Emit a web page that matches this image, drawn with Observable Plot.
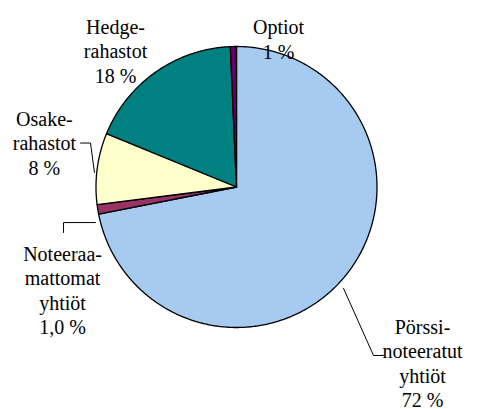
<!DOCTYPE html>
<html>
<head>
<meta charset="utf-8">
<script src="https://cdn.jsdelivr.net/npm/d3@7"></script>
<script src="https://cdn.jsdelivr.net/npm/@observablehq/plot@0.6"></script>
<style>
  html, body { margin: 0; padding: 0; background: #fff; font-family: "Times New Roman", "Liberation Serif", serif; }
  #chart svg { display: block; }
  #chart svg text, #chart svg tspan { font-family: "Times New Roman", "Liberation Serif", serif !important; }
</style>
</head>
<body>
<div id="chart"></div>
<script>
// ---- data, clockwise from 12 o'clock ----
const categories = ["Pörssinoteeratut yhtiöt", "Noteeraamattomat yhtiöt", "Osakerahastot", "Hedgerahastot", "Optiot"];
const shares = [71.9, 1.1, 8.2, 18.1, 0.7];
const labelTexts = [
  "Pörssi-\nnoteeratut\nyhtiöt\n72 %",
  "Noteeraa-\nmattomat\nyhtiöt\n1,0 %",
  "Osake-\nrahastot\n8 %",
  "Hedge-\nrahastot\n18 %",
  "Optiot\n1 %"
];
const colors = ["#A6CAF0", "#993366", "#FFFFCC", "#008080", "#660066"];

// ---- layout (pie radius = 1 unit, centre at origin) ----
const W = 477, H = 409, R = 140.5, CX = 236, CY = 186.5;
const labelPos = [[1.324, -1.25], [-1.238, -0.730], [-1.367, 0.317], [-0.861, 0.972], [0.299, 1.057]];
const leaders = [
  [[0.762, -0.722], [0.975, -1.199], [1.046, -1.199]],
  [[-1.231, -0.324], [-1.231, -0.253], [-1.004, -0.253]],
  [[-1.110, 0.313], [-1.039, 0.313], [-1.011, 0.103]]
];

const table = categories.map((c, i) => ({name: c, value: shares[i], label: labelTexts[i], lx: labelPos[i][0], ly: labelPos[i][1]}));
const arcs = d3.pie().sort(null).value(d => d.value)(table);

const pts = [];
for (const a of arcs) {
  pts.push({name: a.data.name, x: 0, y: 0});
  const n = Math.max(2, Math.ceil((a.endAngle - a.startAngle) / 0.01));
  for (let k = 0; k <= n; k++) {
    const t = a.startAngle + (a.endAngle - a.startAngle) * k / n;
    pts.push({name: a.data.name, x: Math.sin(t), y: Math.cos(t)});
  }
}
const leaderPts = leaders.flatMap((l, j) => l.map(p => ({id: j, x: p[0], y: p[1]})));

const plot = Plot.plot({
  width: W, height: H,
  margin: 0,
  style: "font-family: 'Times New Roman', 'Liberation Serif', serif;",
  x: {domain: [-CX / R, (W - CX) / R], range: [0, W], axis: null},
  y: {domain: [(CY - H) / R, CY / R], range: [H, 0], axis: null},
  color: {type: "ordinal", domain: categories, range: colors},
  marks: [
    Plot.line(pts, {x: "x", y: "y", z: "name", fill: "name", stroke: "#000", strokeWidth: 1.3, curve: "linear-closed", strokeLinejoin: "round"}),
    Plot.line(leaderPts, {x: "x", y: "y", z: "id", stroke: "#000", strokeWidth: 1}),
    Plot.text(table, {x: "lx", y: "ly", text: "label", fontFamily: "Times New Roman, Liberation Serif, serif", fontSize: 20, lineHeight: 1.23, lineAnchor: "middle", textAnchor: "middle", fill: "#000"})
  ]
});
document.getElementById("chart").appendChild(plot);
</script>
</body>
</html>
